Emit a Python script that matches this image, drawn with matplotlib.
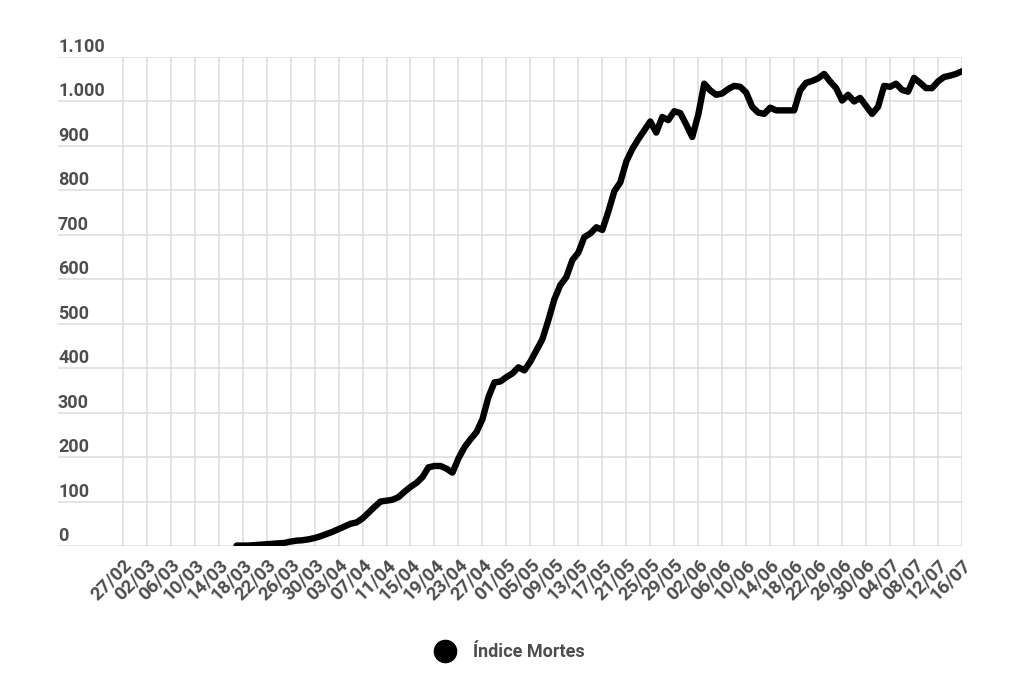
import matplotlib
matplotlib.use("Agg")
import matplotlib.pyplot as plt
import matplotlib.transforms as mtransforms
from matplotlib.lines import Line2D
import pandas as pd

# Indice Mortes, 17/03 -> 16/07 (one value per day)
inicio = "2020-03-17"
mortes = [
    1, 1, 1, 2, 3, 4, 5, 6, 7, 10,            # 17/03 - 26/03
    12, 13, 15, 18, 22, 27, 32, 38, 44, 50,   # 27/03 - 05/04
    53, 62, 75, 88, 100, 102, 104, 110, 122, 133,  # 06/04 - 15/04
    142, 155, 177, 180, 180, 174, 165, 197, 222, 240,  # 16/04 - 25/04
    256, 285, 335, 368, 370, 380, 388, 402, 395, 415,  # 26/04 - 05/05
    440, 465, 508, 555, 587, 605, 643, 660, 695, 703,  # 06/05 - 15/05
    717, 711, 752, 798, 818, 865, 893, 915, 935, 955,  # 16/05 - 25/05
    930, 965, 958, 978, 974, 948, 920, 970, 1040, 1025,  # 26/05 - 04/06
    1015, 1018, 1028, 1035, 1033, 1020, 988, 975, 972, 986,  # 05/06 - 14/06
    980, 980, 980, 980, 1025, 1042, 1046, 1052, 1062, 1045,  # 15/06 - 24/06
    1030, 1002, 1015, 1000, 1008, 990, 972, 988, 1035, 1033,  # 25/06 - 04/07
    1040, 1026, 1022, 1053, 1042, 1030, 1030, 1045, 1055, 1058,  # 05/07 - 14/07
    1062, 1068,                                # 15/07 - 16/07
]
datas = pd.date_range(inicio, periods=len(mortes), freq="D")

# eixo x: de 27/02 ate 16/07, de 4 em 4 dias
ticks_x = pd.date_range("2020-02-27", "2020-07-16", freq="4D")
labels_x = [d.strftime("%d/%m") for d in ticks_x]

ticks_y = [0, 100, 200, 300, 400, 500, 600, 700, 800, 900, 1000, 1100]
labels_y = ["0", "100", "200", "300", "400", "500", "600", "700", "800", "900", "1.000", "1.100"]

cinza = "#4d4d4d"
plt.rcParams['font.family'] = ['Roboto', 'DejaVu Sans']

fig = plt.figure(figsize=(10.24, 6.82), dpi=100)
W, H = 1024, 682
ax = fig.add_axes([58 / W, (H - 546) / H, (962 - 58) / W, (546 - 57) / H])

ax.plot(datas, mortes, color="black", linewidth=4.6,
        solid_capstyle="round", solid_joinstyle="round", zorder=3)

ax.set_ylim(0, 1100)
ax.set_xlim(ticks_x[0] - pd.Timedelta(days=10.8), ticks_x[-1])

ax.set_xticks(ticks_x)
ax.set_xticklabels(labels_x, rotation=45, ha="right", rotation_mode="anchor",
                   fontsize=13.5, fontweight="bold", color=cinza)
ax.tick_params(axis="x", length=0, pad=7)

ax.set_yticks(ticks_y)
ax.set_yticklabels([])
ax.tick_params(axis="y", length=0)

ax.grid(True, color="#dcdcdc", linewidth=1.1)
ax.set_axisbelow(True)
for s in ax.spines.values():
    s.set_visible(False)

# rotulos do eixo y por cima das linhas de grade
trans = mtransforms.offset_copy(ax.get_yaxis_transform(), fig=fig, x=0, y=1, units="dots")
for v, lab in zip(ticks_y, labels_y):
    ax.text(0, v, lab, transform=trans, ha="left", va="bottom",
            fontsize=13, fontweight="bold", color=cinza)

handle = Line2D([], [], marker="o", color="black", linestyle="None", markersize=16)
fig.legend([handle], ["Índice Mortes"], loc="center", bbox_to_anchor=(0.494, 1 - 652 / H),
           frameon=False, prop={"size": 13, "weight": "bold"}, labelcolor=cinza,
           handletextpad=0.6)

fig.savefig("out.png", dpi=100)
